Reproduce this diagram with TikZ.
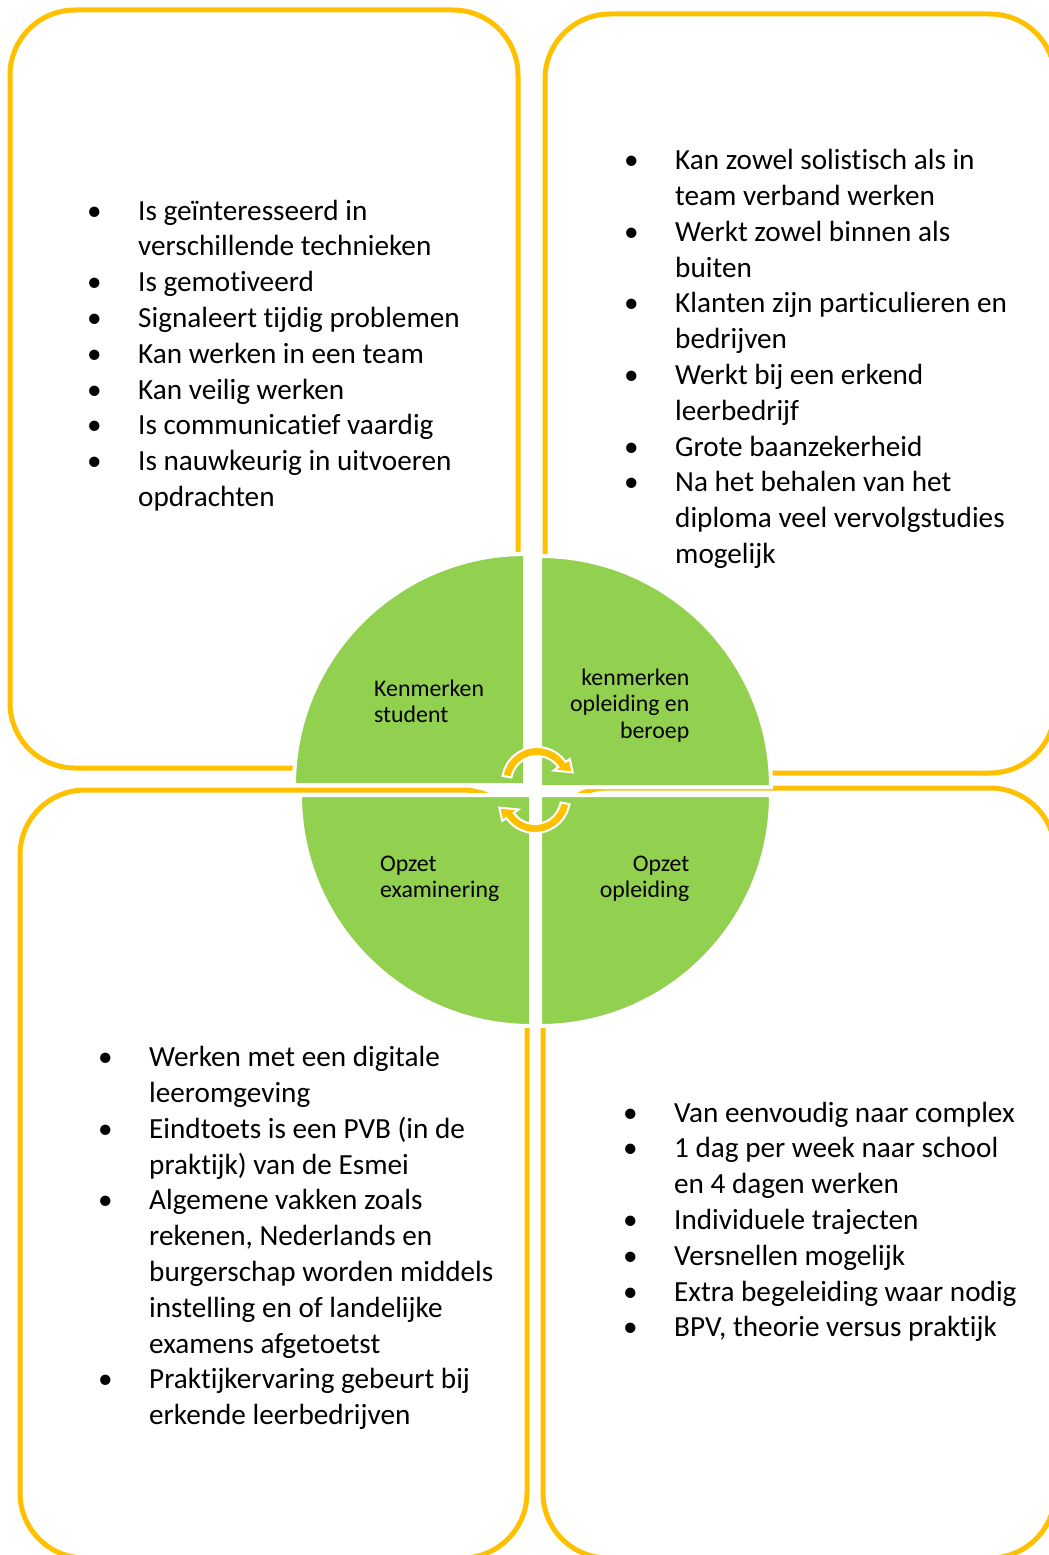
\documentclass[tikz,border=0pt]{standalone}
\usepackage{fontspec}
\setmainfont{Carlito}[Ligatures=NoCommon]
\usetikzlibrary{positioning}
\definecolor{gold}{HTML}{FFC000}
\definecolor{lgreen}{HTML}{92D050}
\newlength\bulw
\setlength\bulw{49pt}
\newcommand{\bul}{\makebox[\bulw][l]{\hspace*{-2pt}\textbullet}}
\newcommand{\ind}{\hspace*{\bulw}}

\begin{document}
\begin{tikzpicture}[x=1pt,y=1pt,
  frame/.style={draw=gold,line width=5pt,rounded corners=65pt},
  quad/.style={fill=lgreen,draw=white,line width=4pt},
  turn/.style={fill=gold,draw=white,line width=2pt},
  list/.style={anchor=north west,inner sep=0pt,align=left,font={\fontsize{29.2pt}{35.8pt}\selectfont}},
  lbl/.style={inner sep=0pt,font={\fontsize{23.8pt}{26.7pt}\selectfont}}]
  \useasboundingbox (0,0) rectangle (1049,-1555);
  % four frames
  \draw[frame] (10,-10) rectangle (518,-768);
  \draw[frame] (545,-14) rectangle (1055,-773);
  \draw[frame] (20,-790) rectangle (527,-1558);
  \draw[frame] (543,-788) rectangle (1055,-1558);
  % circle in four parts
  \filldraw[quad] (525,-785) -- (294,-785) arc[start angle=180,end angle=90,radius=231] -- cycle;
  \filldraw[quad] (540,-787) -- (540,-556) arc[start angle=90,end angle=0,radius=231] -- cycle;
  \filldraw[quad] (531,-795) -- (300,-795) arc[start angle=180,end angle=270,radius=231] -- cycle;
  \filldraw[quad] (540,-795) -- (771,-795) arc[start angle=0,end angle=-90,radius=231] -- cycle;
  % turning arrows
  \begin{scope}[shift={(537,-782)}]
    \filldraw[turn] (170:35) arc[start angle=170,end angle=35,radius=35] -- (35:40) -- (15:37)
      -- (35:20) -- (35:26) arc[start angle=35,end angle=170,radius=26] -- cycle;
  \end{scope}
  \begin{scope}[shift={(535,-798)}]
    \filldraw[turn] (350:35) arc[start angle=350,end angle=215,radius=35] -- (215:40) -- (195:37)
      -- (215:20) -- (215:26) arc[start angle=215,end angle=350,radius=26] -- cycle;
  \end{scope}
  % labels in the circle
  \node[lbl,anchor=north west,align=left] (stud) at (374,-677.3) {\strut Kenmerken\\student};
  \node[lbl,anchor=north east,align=right] (opl) at (689.5,-666.3) {\strut kenmerken\\opleiding en\\beroep};
  \node[lbl,anchor=north west,align=left] (exam) at (380,-852.3) {\strut Opzet\\examinering};
  \node[lbl,anchor=north east,align=right] (opz) at (689.5,-852.3) {\strut Opzet\\opleiding};
  % lists
  \node[list] (lstud) at (89,-194.9) {\bul\strut Is geïnteresseerd in\\
    \ind verschillende technieken\\
    \bul Is gemotiveerd\\
    \bul Signaleert tijdig problemen\\
    \bul Kan werken in een team\\
    \bul Kan veilig werken\\
    \bul Is communicatief vaardig\\
    \bul Is nauwkeurig in uitvoeren\\
    \ind opdrachten};
  \node[list] (lopl) at (626,-144.4) {\bul\strut Kan zowel solistisch als in\\
    \ind team verband werken\\
    \bul Werkt zowel binnen als\\
    \ind buiten\\
    \bul Klanten zijn particulieren en\\
    \ind bedrijven\\
    \bul Werkt bij een erkend\\
    \ind leerbedrijf\\
    \bul Grote baanzekerheid\\
    \bul Na het behalen van het\\
    \ind diploma veel vervolgstudies\\
    \ind mogelijk};
  \node[list] (lexam) at (100,-1041.4) {\bul\strut Werken met een digitale\\
    \ind leeromgeving\\
    \bul Eindtoets is een PVB (in de\\
    \ind praktijk) van de Esmei\\
    \bul Algemene vakken zoals\\
    \ind rekenen, Nederlands en\\
    \ind burgerschap worden middels\\
    \ind instelling en of landelijke\\
    \ind examens afgetoetst\\
    \bul Praktijkervaring gebeurt bij\\
    \ind erkende leerbedrijven};
  \node[list] (lopz) at (625,-1096.9) {\bul\strut Van eenvoudig naar complex\\
    \bul 1 dag per week naar school\\
    \ind en 4 dagen werken\\
    \bul Individuele trajecten\\
    \bul Versnellen mogelijk\\
    \bul Extra begeleiding waar nodig\\
    \bul BPV, theorie versus praktijk};
\end{tikzpicture}
\end{document}
